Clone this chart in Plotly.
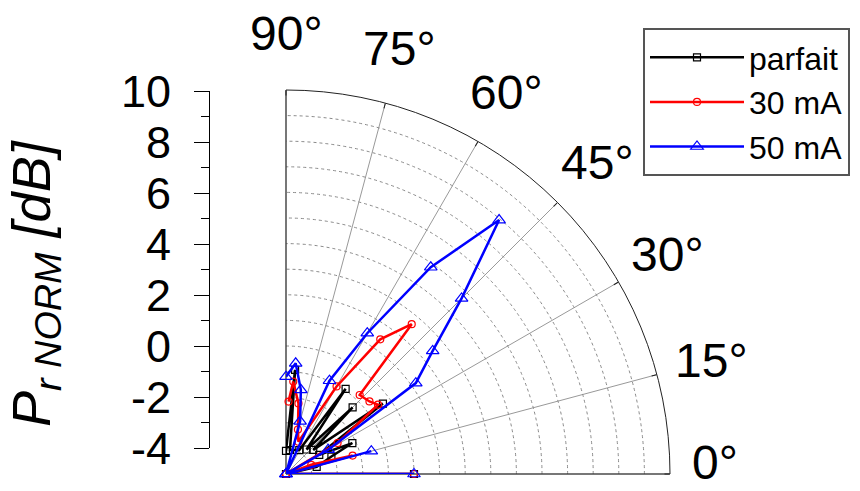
import math
import plotly.graph_objects as go

# ---- data (angle in degrees, normalized power in dB) ----
theta_parfait = [0, 5, 13, 21, 25, 30, 36, 41.5, 45, 50, 55, 61, 80.5, 85, 90]
r_parfait = [0, -5, -3.77, -3.1, -2.14, -3.5, -0.32, -3.58, -1.32, -3.75, -0.94, -3.93, -4.05, -0.92, -4.1]

theta_30mA = [0, 5, 15.5, 20, 25, 31, 37, 41, 47, 50, 55, 60, 69, 75, 80, 85.5, 88]
r_30mA = [0, -5, -2.3, -3.95, -5, -2.65, -0.5, -0.68, -0.78, 2.64, 1.42, -1.05, -3.65, -3.2, -2.2, -1.38, -2.17]

theta_50mA = [0, 5, 15, 25, 30, 35, 40, 45, 50, 55, 60, 65, 70, 75, 80, 85, 90]
r_50mA = [0, -5, -1.55, -5, -3.1, 1.19, 2.48, 4.7, 7.95, 4.86, 1.35, -0.98, -5, -2.87, -1.66, -0.66, -1.2]

angle_ticks = [0, 15, 30, 45, 60, 75, 90]
angle_labels = ["0°", "15°", "30°", "45°", "60°", "75°", "90°"]
radial_range = [-5, 10]
scale_ticks = [-4, -2, 0, 2, 4, 6, 8, 10]
scale_labels = ["-4", "-2", "0", "2", "4", "6", "8", "10"]

FONT = "Liberation Sans, Arial, sans-serif"
W, H = 860, 491

fig = go.Figure()
series = [
    ("parfait", theta_parfait, r_parfait, "black", "square-open", 7),
    ("30 mA", theta_30mA, r_30mA, "red", "circle-open", 7),
    ("50 mA", theta_50mA, r_50mA, "blue", "triangle-up-open", 11),
]
for name, th, r, col, sym, sz in series:
    fig.add_trace(go.Scatterpolar(
        theta=th, r=r, name=name, mode="lines+markers",
        line=dict(color=col, width=2.5),
        marker=dict(symbol=sym, size=sz, color=col, line=dict(color=col, width=1.2)),
    ))

# dummy cartesian trace so the left scale axis is drawn
fig.add_trace(go.Scatter(x=[], y=[], showlegend=False, hoverinfo="skip"))

# polar geometry (pixels): centre and outer radius
cx, cy, R = 286, 474, 384
LABEL_R = 440

annotations = [dict(
    text="<i>P<sub>r NORM</sub> [dB]</i>", textangle=-90,
    xref="paper", yref="paper", x=35 / W, y=(H - 283) / H,
    xanchor="center", yanchor="middle", showarrow=False,
    font=dict(size=54, family=FONT, color="black"),
)]
# angular (degree) labels placed around the outer arc
for a, lab in zip(angle_ticks, angle_labels):
    px = cx + LABEL_R * math.cos(math.radians(a))
    py = min(cy - LABEL_R * math.sin(math.radians(a)), 462)
    if a == 0:
        px = 715
    annotations.append(dict(
        text=lab, xref="paper", yref="paper", x=px / W, y=(H - py) / H,
        xanchor="center", yanchor="middle", showarrow=False,
        font=dict(size=48, family=FONT, color="black"),
    ))

fig.update_layout(
    width=W, height=H,
    margin=dict(l=0, r=0, t=0, b=0, autoexpand=False),
    paper_bgcolor="white", plot_bgcolor="white",
    font=dict(family=FONT, color="black"),
    polar=dict(
        domain=dict(x=[cx / W, (cx + R) / W], y=[(H - cy) / H, (H - cy + R) / H]),
        sector=[0, 90],
        bgcolor="white",
        radialaxis=dict(
            range=radial_range, tickmode="linear", tick0=-5, dtick=1,
            showticklabels=False, ticks="", showline=False,
            showgrid=True, gridcolor="#8a8a8a", griddash="dot", gridwidth=1,
            angle=0, layer="below traces",
        ),
        angularaxis=dict(
            direction="counterclockwise", rotation=0,
            tickmode="array", tickvals=angle_ticks,
            showticklabels=False,
            ticks="inside", ticklen=5, tickcolor="#222",
            showline=True, linecolor="#222", linewidth=1,
            showgrid=True, gridcolor="#999", gridwidth=1,
            layer="below traces",
        ),
    ),
    xaxis=dict(domain=[210 / W, 0.25], range=[0, 1], visible=False),
    yaxis=dict(
        domain=[(H - 448) / H, (H - 91) / H], range=[-4, 10],
        tickmode="array", tickvals=scale_ticks, ticktext=scale_labels,
        ticks="outside", ticklen=15, tickcolor="black", tickwidth=1,
        minor=dict(dtick=1, ticks="outside", ticklen=8, tickcolor="black"),
        showline=True, linecolor="black", linewidth=1,
        showgrid=False, zeroline=False,
        tickfont=dict(size=45, family=FONT, color="black"),
        ticklabelstandoff=14,
        anchor="x", side="left",
    ),
    legend=dict(
        x=643 / W, y=(H - 28) / H, xanchor="left", yanchor="top",
        bgcolor="white", bordercolor="#555", borderwidth=2,
        font=dict(size=32, family=FONT, color="black"),
        itemwidth=94,
    ),
    annotations=annotations,
)

fig.write_html("out.html", config={"displayModeBar": False},
               post_script="document.body.style.margin='0px';")
